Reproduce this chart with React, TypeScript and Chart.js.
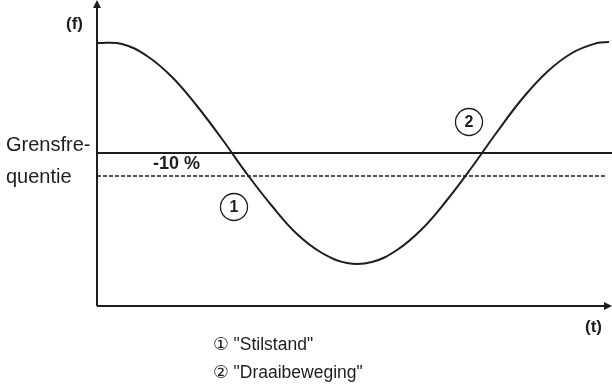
import React, { useEffect, useRef } from "react";
import { Chart, registerables } from "chart.js";

Chart.register(...registerables);

// Curve samples (time units, frequency units)
const curveX = [0, 25, 50, 75, 100, 125, 150, 175, 200, 225, 250, 275, 300, 325, 350, 375, 400, 425, 450, 475, 500, 512];
const curveY = [263, 262, 250, 229, 200, 167, 132, 100, 72, 53, 43, 44, 56, 77, 106, 139, 174, 207, 234, 253, 263, 264];

const limitFreq = 153; // Grensfrequentie
const limitMinus10 = 130; // -10 %
const limitLineX = [0, 515];
const dashedLineX = [0, 510];

const markerLabels = ["1", "2"];
const markerX = [137, 372];
const markerY = [99, 184];

const legendLines = ["\u2460 \"Stilstand\"", "\u2461 \"Draaibeweging\""];
const yAxisLabel = "(f)";
const xAxisLabel = "(t)";
const limitLabelLines = ["Grensfre-", "quentie"];
const percentLabel = "-10 %";

const INK = "#1e1e1e";

export default function App() {
  const ref = useRef<HTMLCanvasElement | null>(null);

  useEffect(() => {
    document.body.style.margin = "0";
    const canvas = ref.current!;
    const annot = {
      id: "annot",
      afterDatasetsDraw(chart: any) {
        const ctx = chart.ctx as CanvasRenderingContext2D;
        const a = chart.chartArea;
        const xs = chart.scales.x;
        const ys = chart.scales.y;
        ctx.save();
        ctx.strokeStyle = INK;
        ctx.fillStyle = INK;
        ctx.lineWidth = 2;
        // y axis
        ctx.beginPath();
        ctx.moveTo(a.left, a.bottom);
        ctx.lineTo(a.left, a.top + 4);
        ctx.stroke();
        ctx.beginPath();
        ctx.moveTo(a.left, a.top);
        ctx.lineTo(a.left - 4, a.top + 8);
        ctx.lineTo(a.left + 4, a.top + 8);
        ctx.closePath();
        ctx.fill();
        // x axis
        ctx.beginPath();
        ctx.moveTo(a.left, a.bottom);
        ctx.lineTo(a.right - 4, a.bottom);
        ctx.stroke();
        ctx.beginPath();
        ctx.moveTo(a.right, a.bottom);
        ctx.lineTo(a.right - 8, a.bottom - 4);
        ctx.lineTo(a.right - 8, a.bottom + 4);
        ctx.closePath();
        ctx.fill();

        // markers
        ctx.lineWidth = 1.3;
        for (let i = 0; i < markerLabels.length; i++) {
          const cx = xs.getPixelForValue(markerX[i]);
          const cy = ys.getPixelForValue(markerY[i]);
          ctx.beginPath();
          ctx.arc(cx, cy, 13.5, 0, Math.PI * 2);
          ctx.stroke();
          ctx.font = "bold 16px 'Liberation Sans', Arial, sans-serif";
          ctx.textAlign = "center";
          ctx.textBaseline = "middle";
          ctx.fillText(markerLabels[i], cx, cy + 1);
        }

        // texts
        ctx.textBaseline = "alphabetic";
        ctx.textAlign = "left";
        ctx.font = "bold 17px 'Liberation Sans', Arial, sans-serif";
        ctx.fillText(yAxisLabel, a.left - 31, 29);
        ctx.font = "bold 17px 'Liberation Sans', Arial, sans-serif";
        ctx.fillText(xAxisLabel, a.right - 27, a.bottom + 26);

        ctx.font = "20px 'Liberation Sans', Arial, sans-serif";
        ctx.fillText(limitLabelLines[0], 6, 151);
        ctx.fillText(limitLabelLines[1], 6, 183);

        ctx.font = "bold 18px 'Liberation Sans', Arial, sans-serif";
        ctx.fillText(percentLabel, 153, 169);

        ctx.font = "17.5px 'Liberation Sans', 'DejaVu Sans', Arial, sans-serif";
        ctx.fillText(legendLines[0], 213, 350);
        ctx.fillText(legendLines[1], 213, 378);
        ctx.restore();
      },
    };

    const chart = new Chart(canvas, {
      type: "line",
      data: {
        datasets: [
          {
            data: curveX.map((x, i) => ({ x, y: curveY[i] })),
            borderColor: INK,
            borderWidth: 2,
            pointRadius: 0,
            tension: 0.4,
            fill: false,
          },
          {
            data: limitLineX.map((x) => ({ x, y: limitFreq })),
            borderColor: INK,
            borderWidth: 1.8,
            pointRadius: 0,
            fill: false,
          },
          {
            data: dashedLineX.map((x) => ({ x, y: limitMinus10 })),
            borderColor: INK,
            borderWidth: 1.5,
            borderDash: [4, 2],
            pointRadius: 0,
            fill: false,
          },
        ],
      },
      options: {
        responsive: false,
        animation: false,
        layout: { padding: { left: 97, right: 0, top: 0, bottom: 81 } },
        plugins: { legend: { display: false }, tooltip: { enabled: false } },
        scales: {
          x: { type: "linear", min: 0, max: 515, display: false },
          y: { type: "linear", min: 0, max: 306, display: false },
        },
      },
      plugins: [annot],
    } as any);
    return () => chart.destroy();
  }, []);

  return (
    <div style={{ position: "absolute", left: 0, top: 0, width: 612, height: 387, background: "#fff" }}>
      <canvas ref={ref} width={612} height={387} />
    </div>
  );
}
